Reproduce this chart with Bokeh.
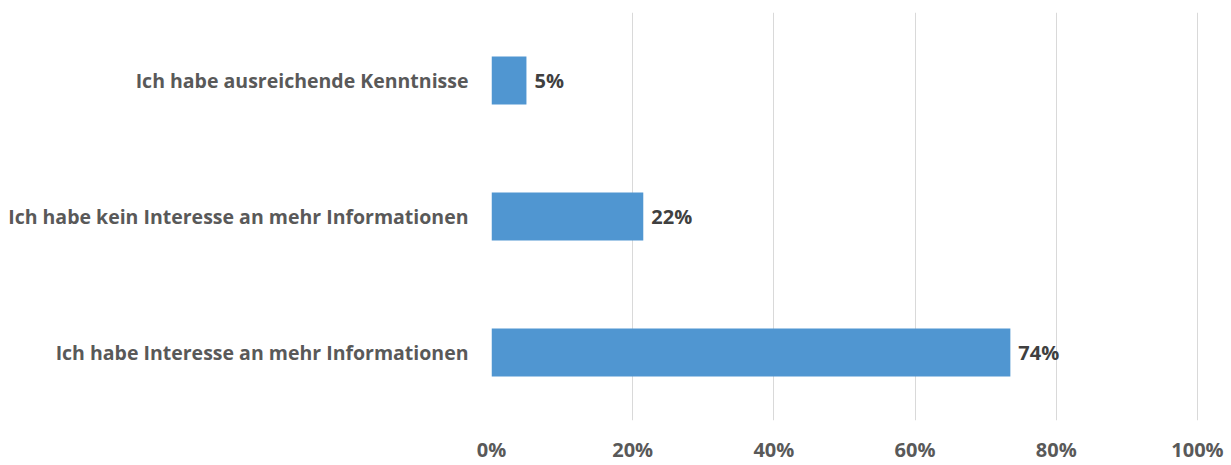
from bokeh.plotting import figure
from bokeh.models import ColumnDataSource, FixedTicker, PrintfTickFormatter
from bokeh.core.properties import value
from bokeh.embed import file_html
from bokeh.resources import INLINE

categories = [
    "Ich habe ausreichende Kenntnisse",
    "Ich habe kein Interesse an mehr Informationen",
    "Ich habe Interesse an mehr Informationen",
]
values = [4.95, 21.5, 73.5]
value_labels = ["5%", "22%", "74%"]
x_ticks = [0, 20, 40, 60, 80, 100]

FONT = "Open Sans"
BAR = "#5096D1"

src = ColumnDataSource(dict(cat=categories, val=values, lab=value_labels))

p = figure(
    width=1231, height=465,
    y_range=list(reversed(categories)),
    x_range=(0, 100.15),
    output_backend="svg", toolbar_location=None,
    min_border_left=491, min_border_right=33,
    min_border_top=12, min_border_bottom=42,
)
p.outline_line_color = None
p.background_fill_color = "white"

p.hbar(y="cat", right="val", left=0, height=0.354, source=src,
       fill_color=BAR, line_color=None)

p.text(x="val", y="cat", text="lab", source=src, x_offset=8,
       text_baseline="middle", text_align="left",
       text_font=value(FONT), text_font_style="bold",
       text_font_size="20px", text_color="#404040")

p.xaxis.ticker = FixedTicker(ticks=x_ticks)
p.xaxis.formatter = PrintfTickFormatter(format="%d%%")
p.xaxis.axis_line_color = None
p.xaxis.major_tick_line_color = None
p.xaxis.minor_tick_line_color = None
p.xaxis.major_tick_out = 0
p.xaxis.major_tick_in = 0
p.xaxis.major_label_standoff = 15
p.xaxis.major_label_text_font = FONT
p.xaxis.major_label_text_font_style = "bold"
p.xaxis.major_label_text_font_size = "20px"
p.xaxis.major_label_text_color = "#595959"

p.yaxis.axis_line_color = None
p.yaxis.major_tick_line_color = None
p.yaxis.minor_tick_line_color = None
p.yaxis.major_label_standoff = 17
p.yaxis.major_label_text_font = FONT
p.yaxis.major_label_text_font_style = "bold"
p.yaxis.major_label_text_font_size = "19.5px"
p.yaxis.major_label_text_color = "#595959"

p.xgrid.grid_line_color = "#d9d9d9"
p.xgrid.grid_line_width = 1
p.ygrid.grid_line_color = None

open("out.html", "w").write(file_html(p, INLINE))
